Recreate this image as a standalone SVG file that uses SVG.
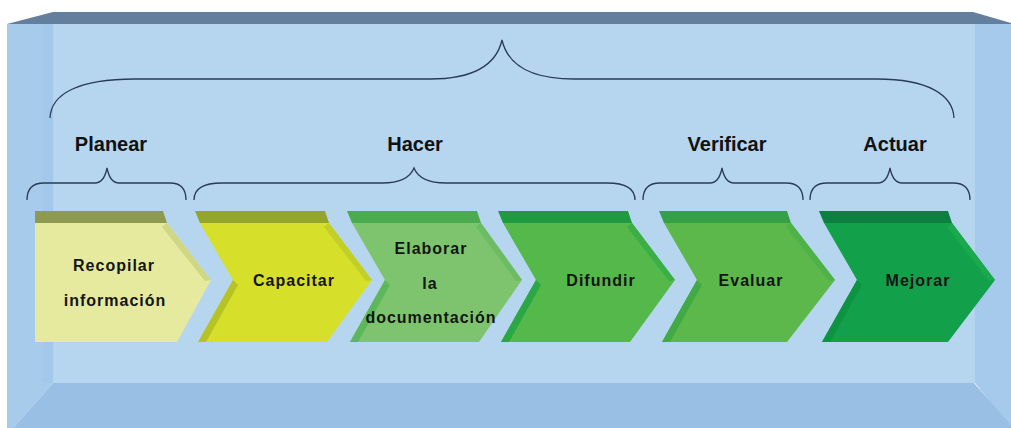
<svg xmlns="http://www.w3.org/2000/svg" width="1011" height="428" viewBox="0 0 1011 428">
  <defs>
    <style>
      .brace { fill: none; stroke: #2b3b57; stroke-width: 1.3; }
      .phase { font-family: "Liberation Sans", Arial, sans-serif; font-weight: bold; font-size: 20px; fill: #111; text-anchor: middle; }
      .step { font-family: "Liberation Sans", Arial, sans-serif; font-weight: bold; font-size: 16px; letter-spacing: 1px; fill: #141414; text-anchor: middle; }
    </style>
  </defs>

  <rect width="1011" height="428" fill="#ffffff"/>

  <!-- room-like frame -->
  <g id="frame">
    <rect x="53" y="24" width="922" height="359" fill="#b6d6f0"/>
    <polygon points="7,24 53,24 53,383 13,428 7,428" fill="#a7cbeb"/>
    <rect x="42" y="24" width="11" height="359" fill="#a0c6e9" opacity="0.7"/>
    <polygon points="975,24 1011,24 1011,428 975,383" fill="#a5caeb"/>
    <polygon points="53,383 974,383 1011,425 1011,428 13,428" fill="#99bfe4"/>
    <polygon points="7,24 53,12 973,12 1011,23 1011,24" fill="#647f9d"/>
  </g>

  <!-- braces -->
  <g id="braces">
    <path class="brace" d="M50,118 C51,94 78,79 135,79 L430,79 C472,79 496,66 502,40 C508,66 532,79 574,79 L877,79 C928,79 953,95 954,118"/>
    <path class="brace" d="M27,200 C27,190 31,183 44,183 L95,183 C101,183 105,178 107,168 C109,178 113,183 119,183 L170,183 C182,183 186,190 186,200"/>
    <path class="brace" d="M194,200 C194,190 202,183 222,183 L382,183 C400,183 410,178 414,168 C418,178 428,183 446,183 L607,183 C627,183 635,190 635,200"/>
    <path class="brace" d="M643,200 C643,190 647,183 660,183 L710,183 C716,183 720,178 722,168 C724,178 728,183 734,183 L786,183 C799,183 803,190 803,200"/>
    <path class="brace" d="M810,200 C810,190 814,183 827,183 L878,183 C884,183 888,178 890,168 C892,178 896,183 902,183 L953,183 C966,183 970,190 970,200"/>
  </g>

  <!-- phase labels -->
  <g id="labels">
    <text class="phase" x="111" y="151">Planear</text>
    <text class="phase" x="415" y="151">Hacer</text>
    <text class="phase" x="727" y="151">Verificar</text>
    <text class="phase" x="895" y="151">Actuar</text>
  </g>

  <!-- step 1 -->
  <g id="step-recopilar">
    <polygon points="35,223 167,223 211,280 177,342 35,342" fill="#e5ea9e"/>
    <polygon points="167,223 211,280 205,281 162,227" fill="#cfd785"/>
    <polygon points="35,211 163,211 167,223 35,223" fill="#8d9b52"/>
    <text class="step" x="114" y="271">Recopilar</text>
    <text class="step" x="115" y="306">información</text>
  </g>

  <!-- step 2 -->
  <g id="step-capacitar">
    <polygon points="200,223 329,223 372,280 327,342 198,342 233,280" fill="#d6df2a"/>
    <polygon points="233,280 198,342 206,342 238,285" fill="#b5c324"/>
    <polygon points="329,223 372,280 366,281 324,227" fill="#c2cf26"/>
    <polygon points="195,211 325,211 329,223 200,223" fill="#94a52b"/>
    <text class="step" x="294" y="286">Capacitar</text>
  </g>

  <!-- step 3 -->
  <g id="step-elaborar">
    <polygon points="352,223 481,223 522,280 479,342 350,342 385,280" fill="#7ec46e"/>
    <polygon points="385,280 350,342 358,342 390,285" fill="#5cb85a"/>
    <polygon points="481,223 522,280 516,281 476,227" fill="#6dbc64"/>
    <polygon points="347,211 477,211 481,223 352,223" fill="#4aab4f"/>
    <text class="step" x="431" y="254">Elaborar</text>
    <text class="step" x="430" y="289">la</text>
    <text class="step" x="431" y="323">documentación</text>
  </g>

  <!-- step 4 -->
  <g id="step-difundir">
    <polygon points="503,223 632,223 675,280 630,342 501,342 536,280" fill="#55b84a"/>
    <polygon points="536,280 501,342 509,342 541,285" fill="#2ba845"/>
    <polygon points="632,223 675,280 669,281 627,227" fill="#3aaf46"/>
    <polygon points="498,211 628,211 632,223 503,223" fill="#1f9a40"/>
    <text class="step" x="601" y="286">Difundir</text>
  </g>

  <!-- step 5 -->
  <g id="step-evaluar">
    <polygon points="664,223 791,223 835,280 787,342 662,342 697,280" fill="#5cb84b"/>
    <polygon points="697,280 662,342 670,342 702,285" fill="#41aa46"/>
    <polygon points="791,223 835,280 829,281 786,227" fill="#4db348"/>
    <polygon points="659,211 787,211 791,223 664,223" fill="#36a048"/>
    <text class="step" x="751" y="286">Evaluar</text>
  </g>

  <!-- step 6 -->
  <g id="step-mejorar">
    <polygon points="824,223 952,223 995,280 948,342 822,342 857,280" fill="#13a04a"/>
    <polygon points="857,280 822,342 830,342 862,285" fill="#0d9342"/>
    <polygon points="952,223 995,280 989,281 947,227" fill="#1aa94b"/>
    <polygon points="819,211 948,211 952,223 824,223" fill="#0b8040"/>
    <text class="step" x="918" y="286">Mejorar</text>
  </g>
</svg>
